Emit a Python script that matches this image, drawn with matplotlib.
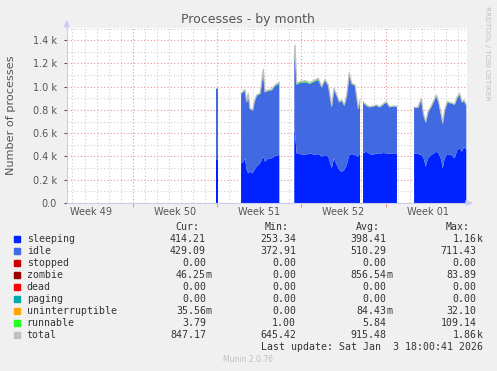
import numpy as np
import matplotlib
matplotlib.use("Agg")
import matplotlib.pyplot as plt
from matplotlib.ticker import FuncFormatter, MultipleLocator

nan = np.nan

# time in days from Mon 1 Dec 2025 (week 49 start)
days = [13.95, 14.10, 14.2,
        16.00, 16.19, 16.33, 16.47, 16.60, 16.74, 16.97, 17.10, 17.30, 17.58,
        17.85, 17.99, 18.26, 18.55, 18.82, 19.18, 19.3,
        20.42, 20.48, 20.62, 20.90, 21.31, 21.73, 22.14, 22.42, 22.70, 22.97,
        23.25, 23.53, 23.72, 23.95, 24.16, 24.36, 24.58, 24.78, 24.99, 25.19,
        25.47, 25.74, 25.88, 26.0,
        26.13, 26.41, 26.69, 26.96, 27.23, 27.52, 27.79, 28.07, 28.34, 28.62,
        28.95, 29.5,
        30.37, 30.70, 30.97, 31.17, 31.34, 31.53, 31.80, 32.22, 32.41, 32.63,
        32.75, 32.91, 33.13, 33.46, 33.74, 33.96, 34.16, 34.35, 34.52, 34.71]

sleeping = [370, 370, nan,
            341, 355, 384, 284, 255, 269, 255, 284, 312, 341,
            400, 355, 384, 384, 404, 413, nan,
            642, 600, 427, 421, 413, 427, 413, 421, 398, 413,
            398, 298, 384, 327, 284, 269, 284, 327, 413, 421,
            413, 398, 427, nan,
            427, 441, 421, 413, 427, 421, 430, 427, 421, 427,
            427, nan,
            427, 421, 413, 384, 312, 384, 413, 441, 427, 370,
            298, 384, 421, 413, 384, 456, 470, 441, 484, 456]

total = [986, 986, nan,
         943, 963, 975, 871, 943, 814, 800, 871, 929, 943,
         1150, 957, 972, 977, 1015, 1038, nan,
         1250, 1358, 1029, 1043, 1052, 1035, 1058, 1072, 1000, 1063,
         1015, 834, 986, 929, 871, 886, 843, 929, 1120, 1029,
         1015, 814, 886, nan,
         871, 843, 828, 834, 843, 828, 851, 871, 828, 834,
         834, nan,
         823, 823, 900, 757, 699, 785, 834, 929, 871, 757,
         690, 800, 871, 862, 851, 914, 943, 871, 886, 843]

runnable = [6, 6, nan,
            5, 6, 12, 6, 10, 5, 5, 6, 6, 6,
            30, 6, 6, 8, 10, 12, nan,
            40, 60, 12, 10, 14, 10, 12, 14, 6, 10,
            8, 5, 8, 6, 5, 5, 5, 6, 20, 8,
            6, 5, 6, nan,
            6, 8, 5, 5, 6, 5, 8, 6, 5, 5,
            5, nan,
            5, 5, 10, 5, 4, 5, 6, 12, 6, 4,
            4, 5, 8, 6, 6, 12, 14, 6, 10, 6]

legend_names = ["sleeping", "idle", "stopped", "zombie", "dead", "paging",
                "uninterruptible", "runnable", "total"]
legend_colors = ["#0022ff", "#4169e1", "#cc0000", "#990000", "#ff0000",
                 "#00aaaa", "#ffa500", "#22ff22", "#c0c0c0"]
cur = ["414.21", "429.09", "0.00", "46.25m", "0.00", "0.00", "35.56m", "3.79", "847.17"]
mins = ["253.34", "372.91", "0.00", "0.00", "0.00", "0.00", "0.00", "1.00", "645.42"]
avgs = ["398.41", "510.29", "0.00", "856.54m", "0.00", "0.00", "84.43m", "5.84", "915.48"]
maxs = ["1.16k", "711.43", "0.00", "83.89", "0.00", "0.00", "32.10", "109.14", "1.86k"]
week_labels = ["Week 49", "Week 50", "Week 51", "Week 52", "Week 01"]

days = np.array(days)
sleeping = np.array(sleeping, dtype=float)
total = np.array(total, dtype=float)
runnable = np.array(runnable, dtype=float)
idle = total - sleeping - runnable

W, H = 497, 371
fig = plt.figure(figsize=(W / 100, H / 100), dpi=100, facecolor="#f0f0f0")
ax = fig.add_axes([66.7 / W, (H - 203) / H, 400 / W, 175 / H])
ax.set_facecolor("white")

# stacked areas
ax.fill_between(days, 0, sleeping, color=legend_colors[0], lw=0)
ax.fill_between(days, sleeping, sleeping + idle, color=legend_colors[1], lw=0)
ax.fill_between(days, sleeping + idle, total, color=legend_colors[7], lw=0)
ax.plot(days, total, color="#c0c0c0", lw=0.9)

ax.set_xlim(1.52, 34.74)
ax.set_ylim(0, 1505)

# grid
ax.xaxis.set_major_locator(MultipleLocator(7))
ax.xaxis.set_minor_locator(MultipleLocator(1))
ax.yaxis.set_major_locator(MultipleLocator(200))
ax.yaxis.set_minor_locator(MultipleLocator(100))
ax.grid(which="minor", color="#cfcfcf", linestyle=(0, (1, 2)), lw=0.8)
ax.grid(which="major", color="#f09090", linestyle=(0, (1, 2)), lw=0.8)
ax.set_axisbelow(True)

ax.yaxis.set_major_formatter(FuncFormatter(lambda v, p: "0.0" if v == 0 else "%.1f k" % (v / 1000)))
ax.tick_params(axis="y", which="major", length=2, colors="#555555", labelsize=7, pad=5)
ax.tick_params(axis="y", which="minor", length=0)
ax.tick_params(axis="x", which="major", length=3, color="#f09090", labelbottom=False)
ax.tick_params(axis="x", which="minor", length=0)

for i, lab in enumerate(week_labels):
    ax.text(3.5 + 7 * i, -75, lab, ha="center", va="center", fontsize=7, color="#555555")

for s in ["top", "right"]:
    ax.spines[s].set_visible(False)
for s in ["left", "bottom"]:
    ax.spines[s].set_color("#c8ccf0")
    ax.spines[s].set_linewidth(0.8)

# axis arrows
fig.patches.append(plt.Polygon([[64.5 / W, (H - 27) / H], [69 / W, (H - 27) / H], [66.7 / W, (H - 21) / H]],
                               closed=True, color="#c8ccf0", transform=fig.transFigure))
fig.patches.append(plt.Polygon([[466 / W, (H - 200.7) / H], [466 / W, (H - 205.3) / H], [472 / W, (H - 203) / H]],
                               closed=True, color="#c8ccf0", transform=fig.transFigure))

fig.text(248 / W, 1 - 19 / H, "Processes - by month", ha="center", va="center", fontsize=9, color="#555555")
fig.text(11 / W, 1 - 115 / H, "Number of processes", ha="center", va="center", rotation=90,
         fontsize=8.1, color="#555555")
fig.text(487 / W, 1 - 53 / H, "RRDTOOL / TOBI OETIKER", ha="center", va="center", rotation=270,
         fontsize=5.3, color="#c0c0c0")

# legend table
mono = "DejaVu Sans Mono"
fs = 7.1
tc = "#333333"
col_end = [206, 296, 386.7, 476.7]
headers = ["Cur:", "Min:", "Avg:", "Max:"]
for x, h in zip(col_end, headers):
    fig.text((x - 7) / W, 1 - 227.3 / H, h, ha="right", va="center", family=mono, fontsize=fs, color=tc)

for i, name in enumerate(legend_names):
    y = 1 - (239.3 + 12 * i) / H
    fig.patches.append(plt.Rectangle((14 / W, y - 3 / H), 6 / W, 6 / H, color=legend_colors[i],
                                     transform=fig.transFigure))
    fig.text(26.7 / W, y, name, ha="left", va="center", family=mono, fontsize=fs, color=tc)
    for x, val in zip(col_end, [cur[i], mins[i], avgs[i], maxs[i]]):
        num, suf = (val[:-1], val[-1]) if val[-1] in "mk" else (val, "")
        fig.text(x / W, y, num, ha="right", va="center", family=mono, fontsize=fs, color=tc)
        if suf:
            fig.text(x / W, y, suf, ha="left", va="center", family=mono, fontsize=fs, color=tc)

fig.text(482.7 / W, 1 - 347.5 / H, "Last update: Sat Jan  3 18:00:41 2026", ha="right", va="center",
         family=mono, fontsize=fs, color=tc)
fig.text(248 / W, 1 - 360 / H, "Munin 2.0.76", ha="center", va="center", fontsize=5.5, color="#c0c0c0")

fig.savefig("out.png", dpi=100, facecolor=fig.get_facecolor())
